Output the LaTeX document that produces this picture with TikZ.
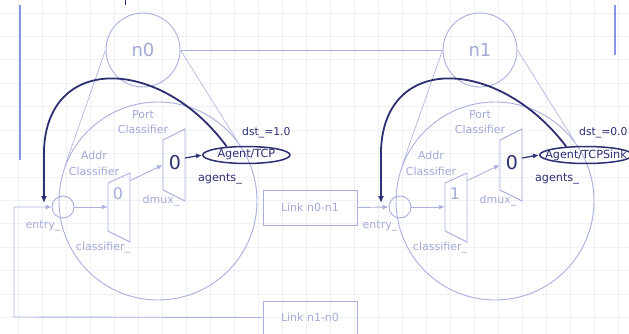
\documentclass[tikz,border=0pt]{standalone}
\usepackage{fontspec}
\setmainfont{DejaVu Sans}
\usepackage{tikz}
\usetikzlibrary{arrows.meta,shapes.geometric}
\definecolor{paper}{HTML}{FFFFFF}
\definecolor{gridc}{HTML}{EFF1F7}
\definecolor{lite}{HTML}{A9B0DE}
\definecolor{litetext}{HTML}{A3AAD8}
\definecolor{navy}{HTML}{2C2F72}
\definecolor{rulec}{HTML}{8797E6}

\begin{document}
\begin{tikzpicture}[x=1pt,y=-1pt,>=Latex,
    gridline/.style={gridc,line width=0.6pt},
    litedraw/.style={draw=lite,line width=0.9pt},
    litearrow/.style={lite,line width=0.9pt,-{Latex[length=6pt,width=5pt]}},
    darkarrow/.style={navy,line width=1.8pt,-{Latex[length=7pt,width=6pt]}},
    litetxt/.style={text=litetext,font=\fontsize{11}{15}\selectfont,inner sep=0pt,align=center},
    darktxt/.style={text=navy,font=\fontsize{11.2}{13}\selectfont,inner sep=0pt},
    topnode/.style={circle,litedraw,minimum size=74pt,inner sep=0pt,text=litetext,font=\fontsize{18}{20}\selectfont},
    bignode/.style={circle,litedraw,minimum size=198pt,inner sep=0pt},
    entrynode/.style={circle,litedraw,minimum size=22pt,inner sep=0pt},
    boxnode/.style={rectangle,inner sep=0pt},
    agentnode/.style={ellipse,draw=navy,line width=1.5pt,text=navy,font=\fontsize{11.2}{13}\selectfont,inner ysep=0pt,minimum height=17pt},
    linkbox/.style={rectangle,litedraw,text=litetext,font=\fontsize{11}{13}\selectfont,minimum width=94pt}]
  \useasboundingbox (0,0) rectangle (629,334);
  \clip (0,0) rectangle (629,334);
  \fill[paper] (0,0) rectangle (629,334);
  % slide grid
  \foreach \gx in {18,42,...,618}
    \draw[gridline] (\gx,0) -- (\gx,334);
  \foreach \gy in {13,36.4,...,330}
    \draw[gridline] (0,\gy) -- (629,\gy);
  \draw[rulec,line width=2pt] (20,5) -- (20,160);
  \draw[rulec,line width=2pt] (615,5) -- (615,55);
  \draw[navy,line width=0.8pt] (125,0) -- (125,5);

  % the two nodes
  \node[topnode] (n0) at (143,50) {n0};
  \node[topnode] (n1) at (480,50) {n1};
  \draw[litedraw] (n0) -- (n1);

  \foreach \i/\dx/\cls/\agent/\ixs/\dst in {0/0/0/{Agent/TCP}/2/1.0,1/337/1/{Agent/TCPSink}/-8/0.0}{
    \begin{scope}[xshift=\dx]
      \node[bignode] (big\i) at (158,201) {};
      \draw[lite,line width=0.6pt] (n\i.west) -- (big\i.159);
      \draw[lite,line width=0.6pt] (n\i.east) -- (big\i.37);
      \node[litetxt] (port\i) at (143,122) {Port\\Classifier};
      \node[litetxt,font=\fontsize{11}{16}\selectfont] (addr\i) at (94,163) {Addr\\Classifier};
      \node[entrynode] (entry\i) at (63,207) {};
      \node[litetxt] (entrylab\i) at (43,226) {entry\_};
      % address classifier
      \node[boxnode,minimum width=22pt,minimum height=70pt] (cls\i) at (119,207) {};
      \draw[litedraw] (108,183) -- (130,173) -- (130,242) -- (108,231) -- cycle;
      \node[text=litetext,font=\fontsize{16}{18}\selectfont,inner sep=0pt] at (118,194) {\cls};
      \node[litetxt] (clslab\i) at (103,248) {classifier\_};
      % port classifier
      \node[boxnode,minimum width=22pt,minimum height=72pt] (dmux\i) at (174,165) {};
      \draw[litedraw] (163,140) -- (185,129) -- (185,201) -- (163,190) -- cycle;
      \node[text=navy,font=\fontsize{19}{21}\selectfont,inner sep=0pt] at (175,163) {0};
      \node[litetxt] (dmuxlab\i) at (161,201) {dmux\_};
      % agent
      \node[agentnode,inner xsep=\ixs pt,anchor=west] (agent\i) at (202,155) {\agent};
      \node[darktxt,font=\fontsize{10.8}{13}\selectfont,anchor=west] (dst\i) at (242,133) {dst\_=\dst};
      \node[darktxt] (alab\i) at (220,179) {agents\_};
      \coordinate (ret\i) at (44,203);

      \draw[litearrow] (entry\i) -- (cls\i.west);
      \draw[litearrow] (cls\i.67) -- (dmux\i.west);
      \draw[navy,line width=1.2pt,-{Latex[length=6pt,width=5pt]}] (dmux\i.32) -- (agent\i.west);
      \draw[darkarrow] (agent\i.157) .. controls (160,55) and (40,52) .. (44,160) -- (ret\i);
    \end{scope}
  }

  % links
  \node[linkbox,minimum height=35pt] (l01) at (310,207.5) {Link n0-n1};
  \node[linkbox,minimum height=33pt] (l10) at (310,317.5) {Link n1-n0};
  \coordinate (corner) at (14,317);
  \draw[litearrow] (l01.east) -- (entry1.west);
  \draw[litearrow] (l10.west) -- (corner) |- (entry0.west);
\end{tikzpicture}
\end{document}
